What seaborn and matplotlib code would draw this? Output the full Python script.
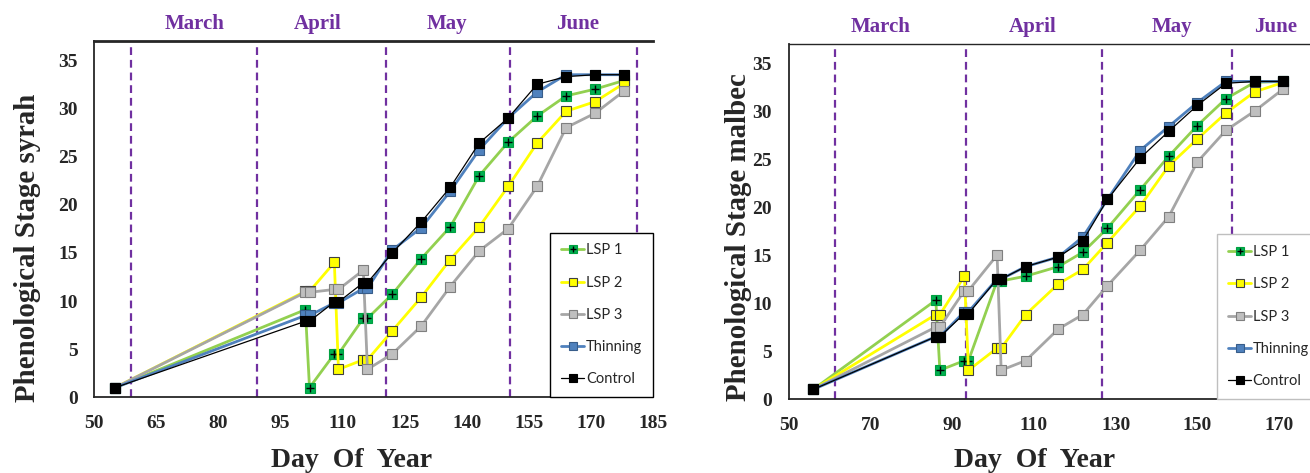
import matplotlib
matplotlib.use("Agg")
import matplotlib.pyplot as plt
import matplotlib.transforms as mtransforms
from matplotlib.lines import Line2D
import seaborn as sns

sns.set_style("white")
plt.rcParams["font.family"] = ["Liberation Serif", "DejaVu Serif"]

# ── Data ──────────────────────────────────────────────────────────────────────
SERIES = ["LSP 1", "LSP 2", "LSP 3", "Thinning", "Control"]

SYRAH_DAYS = [55, 101, 102, 108, 109, 115, 116, 122, 129, 136, 143, 150, 157, 164, 171, 178]
SYRAH_LSP1 = [1.0, 9.1, 1.0, 4.5, 4.5, 8.2, 8.2, 10.7, 14.4, 17.7, 23.0, 26.5, 29.2, 31.3, 32.0, 32.9]
SYRAH_LSP2 = [1.0, 11.0, 11.0, 14.0, 2.9, 3.9, 3.9, 6.9, 10.4, 14.3, 17.7, 21.9, 26.4, 29.7, 30.7, 32.6]
SYRAH_LSP3 = [1.0, 10.9, 10.9, 11.2, 11.2, 13.2, 2.9, 4.5, 7.4, 11.5, 15.2, 17.5, 21.9, 28.0, 29.5, 31.8]
SYRAH_THIN = [1.0, 8.5, 8.5, 9.8, 9.8, 11.3, 11.3, 15.3, 17.6, 21.4, 25.7, 29.0, 31.7, 33.5, 33.5, 33.5]
SYRAH_CTRL = [1.0, 7.9, 7.9, 9.9, 9.9, 11.9, 11.9, 15.0, 18.2, 21.8, 26.4, 29.0, 32.5, 33.3, 33.5, 33.5]

MALBEC_DAYS = [56, 86, 87, 93, 94, 101, 102, 108, 116, 122, 128, 136, 143, 150, 157, 164, 171]
MALBEC_LSP1 = [1.0, 10.3, 3.0, 4.0, 4.0, 12.3, 12.3, 12.8, 13.8, 15.3, 17.8, 21.8, 25.3, 28.5, 31.3, 33.0, 33.1]
MALBEC_LSP2 = [1.0, 8.8, 8.8, 12.8, 3.0, 5.3, 5.3, 8.8, 12.0, 13.5, 16.3, 20.1, 24.3, 27.1, 29.8, 32.0, 33.0]
MALBEC_LSP3 = [1.0, 7.5, 7.5, 11.3, 11.3, 15.0, 3.0, 4.0, 7.3, 8.8, 11.8, 15.5, 19.0, 24.7, 28.0, 30.0, 32.3]
MALBEC_THIN = [1.0, 6.5, 6.5, 9.1, 9.1, 12.5, 12.5, 13.8, 14.8, 16.9, 20.8, 25.9, 28.4, 30.9, 33.1, 33.1, 33.1]
MALBEC_CTRL = [1.0, 6.5, 6.5, 8.9, 8.9, 12.5, 12.5, 13.8, 14.8, 16.5, 20.8, 25.1, 27.9, 30.6, 32.9, 33.1, 33.1]

MONTHS = ["March", "April", "May", "June"]
SYRAH_MONTH_ENDS = [58.8, 89.4, 120.5, 150.4, 181.2]
MALBEC_MONTH_ENDS = [61.4, 93.3, 126.6, 158.4]
SYRAH_MONTH_LABEL_X = [74.3, 104.0, 135.2, 166.8]
MALBEC_MONTH_LABEL_X = [72.6, 109.6, 143.9, 169.1]

SYRAH_XTICKS = list(range(50, 186, 15))
MALBEC_XTICKS = list(range(50, 171, 20))
YTICKS = list(range(0, 36, 5))

# ── Styles ────────────────────────────────────────────────────────────────────
PURPLE = "#7030A0"
STYLE = {
    "LSP 1":    dict(line="#92D050", face="#00B050", edge="#00A040", lw=2.0, ms=7),
    "LSP 2":    dict(line="#FFFF00", face="#FFFF00", edge="#404040", lw=2.0, ms=7),
    "LSP 3":    dict(line="#A6A6A6", face="#BFBFBF", edge="#7F7F7F", lw=2.0, ms=7),
    "Thinning": dict(line="#4F81BD", face="#4F81BD", edge="#385D8A", lw=2.0, ms=7),
    "Control":  dict(line="#000000", face="#000000", edge="#000000", lw=0.9, ms=7.5),
}


def _legend_handles():
    handles = []
    for name in SERIES:
        st = STYLE[name]
        h = Line2D([0], [0], color=st["line"], lw=st["lw"], marker="s",
                   markersize=st["ms"] * 0.85, markerfacecolor=st["face"],
                   markeredgecolor=st["edge"], markeredgewidth=0.8)
        if name == "LSP 1":
            plus = Line2D([0], [0], ls="none", marker="+", color="black",
                          markersize=5, markeredgewidth=1.0)
            h = (h, plus)
        handles.append(h)
    return handles


def draw_panel(ax, days, values, month_ends, month_label_x, xticks, xlim,
               legend_edge, top_lw):
    for name, vals in zip(SERIES, values):
        st = STYLE[name]
        sns.lineplot(x=days, y=vals, ax=ax, sort=False, estimator=None,
                     color=st["line"], lw=st["lw"], marker="s",
                     markersize=st["ms"], markerfacecolor=st["face"],
                     markeredgecolor=st["edge"], markeredgewidth=0.8,
                     legend=False)
        if name == "LSP 1":
            sns.scatterplot(x=days, y=vals, ax=ax, marker="+", color="black",
                            s=26, linewidth=1.0, legend=False, zorder=2)

    for d in month_ends:
        ax.axvline(d, ymin=0, ymax=0.985, color=PURPLE, lw=1.6,
                   ls=(0, (3.5, 2.2)), zorder=1)

    trans = mtransforms.blended_transform_factory(ax.transData, ax.transAxes)
    for mx, mname in zip(month_label_x, MONTHS):
        ax.text(mx, 1.048, mname, transform=trans, ha="center", va="center",
                color=PURPLE, fontsize=15, fontweight="bold", clip_on=False)

    ax.set_xlim(*xlim)
    ax.set_ylim(0, 37)
    ax.set_xticks(xticks)
    ax.set_yticks(YTICKS)
    ax.set_xlabel("")
    ax.set_ylabel("")
    for lab in ax.get_xticklabels() + ax.get_yticklabels():
        lab.set_fontweight("bold")
        lab.set_fontsize(14)
    ax.tick_params(axis="x", direction="out", length=5, width=1,
                   color="#A6A6A6", pad=8)
    ax.tick_params(axis="y", length=0, pad=12)

    ax.spines["right"].set_visible(False)
    for side in ("left", "bottom"):
        ax.spines[side].set_color("#262626")
        ax.spines[side].set_linewidth(1.3)
    ax.spines["top"].set_color("#262626")
    ax.spines["top"].set_linewidth(top_lw)

    leg = ax.legend(_legend_handles(), SERIES, loc="lower right",
                    bbox_to_anchor=(1.0, 0.0), borderaxespad=0.0,
                    frameon=True, fancybox=False, framealpha=1.0,
                    prop={"family": ["Lato", "DejaVu Sans"], "size": 10.5},
                    labelspacing=1.25, borderpad=0.75, handlelength=1.6,
                    handletextpad=0.1, numpoints=1)
    leg.get_frame().set_edgecolor(legend_edge)
    leg.get_frame().set_linewidth(1.0)


# ── Figure ────────────────────────────────────────────────────────────────────
W, H = 1310, 473
fig = plt.figure(figsize=(W / 100, H / 100), dpi=100)

ax_l = fig.add_axes([94.3 / W, 1 - 397.3 / H, 558.7 / W, 356.3 / H])
ax_r = fig.add_axes([788.7 / W, 1 - 399.0 / H, 531.2 / W, 355.0 / H])

draw_panel(ax_l, SYRAH_DAYS,
           [SYRAH_LSP1, SYRAH_LSP2, SYRAH_LSP3, SYRAH_THIN, SYRAH_CTRL],
           SYRAH_MONTH_ENDS, SYRAH_MONTH_LABEL_X, SYRAH_XTICKS, (50, 185),
           legend_edge="#000000", top_lw=2.0)
draw_panel(ax_r, MALBEC_DAYS,
           [MALBEC_LSP1, MALBEC_LSP2, MALBEC_LSP3, MALBEC_THIN, MALBEC_CTRL],
           MALBEC_MONTH_ENDS, MALBEC_MONTH_LABEL_X, MALBEC_XTICKS, (50, 180),
           legend_edge="#BFBFBF", top_lw=1.0)

# axis titles (placed like the original figure)
fig.text(352 / W, 1 - 460 / H, "Day  Of  Year", ha="center", va="center",
         fontsize=20, fontweight="bold")
fig.text(1035 / W, 1 - 460 / H, "Day  Of  Year", ha="center", va="center",
         fontsize=20, fontweight="bold")
fig.text(28 / W, 1 - 248 / H, "Phenological Stage syrah", ha="center",
         va="center", rotation=90, fontsize=20.8, fontweight="bold")
fig.text(738 / W, 1 - 237 / H, "Phenological Stage malbec", ha="center",
         va="center", rotation=90, fontsize=20.8, fontweight="bold")

fig.savefig("out.png", dpi=100)
plt.close(fig)
